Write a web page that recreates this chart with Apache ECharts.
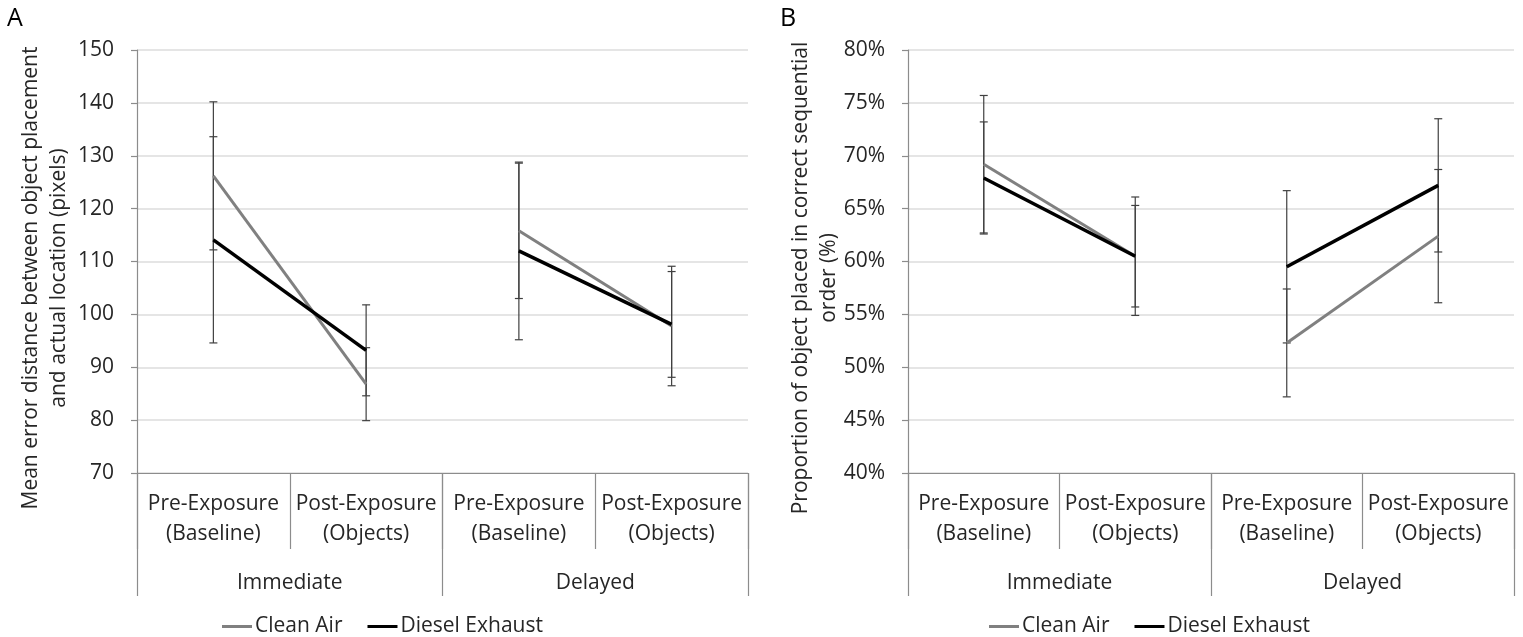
<!DOCTYPE html>
<html>
<head>
<meta charset="utf-8">
<script src="https://cdn.jsdelivr.net/npm/echarts@6/dist/echarts.min.js"></script>
<style>
html,body{margin:0;padding:0;background:#fff;}
#chart{width:1523px;height:637px;}
</style>
</head>
<body>
<div id="chart"></div>
<script>
// ---- data ----
const categories = ['Pre-Exposure\n(Baseline)', 'Post-Exposure\n(Objects)', 'Pre-Exposure\n(Baseline)', 'Post-Exposure\n(Objects)'];
const groups = ['Immediate', 'Delayed'];
const seriesNames = ['Clean Air', 'Diesel Exhaust'];

// Panel A: mean error distance (pixels)
const aClean = [126.2, 86.8, 115.8, 97.8];
const aCleanErr = [14.0, 6.9, 12.8, 11.3];
const aDiesel = [114.1, 93.2, 112.0, 98.1];
const aDieselErr = [19.5, 8.6, 16.8, 10.0];
const aTicks = {min: 70, max: 150, interval: 10};

// Panel B: proportion in correct sequential order (%)
const bClean = [69.2, 60.5, 52.3, 62.4];
const bCleanErr = [6.5, 5.6, 5.1, 6.3];
const bDiesel = [67.9, 60.5, 59.5, 67.2];
const bDieselErr = [5.3, 4.8, 7.2, 6.3];
const bTicks = {min: 40, max: 80, interval: 5};

const yTitleA = 'Mean error distance between object placement\nand actual location (pixels)';
const yTitleB = 'Proportion of object placed in correct sequential\norder (%)';

// ---- styling ----
const FONT = 'Open Sans';
const FS = 21;
const TXT = '#262626';
const AXC = '#8c8c8c';
const colors = {'Clean Air': '#808080', 'Diesel Exhaust': '#000000'};

const chart = echarts.init(document.getElementById('chart'), null, {renderer: 'canvas'});

function segData(arr, g) {
  return arr.map((v, i) => (Math.floor(i / 2) === g ? v : '-'));
}

function lineSeries(name, arr, axisIdx) {
  const out = [];
  for (let g = 0; g < groups.length; g++) {
    out.push({
      type: 'line', name: name,
      xAxisIndex: axisIdx * 2, yAxisIndex: axisIdx,
      data: segData(arr, g),
      symbol: 'none', connectNulls: false,
      lineStyle: {color: colors[name], width: name === 'Clean Air' ? 3 : 3.5},
      itemStyle: {color: colors[name]},
      z: 5, animation: false
    });
  }
  return out;
}

function errSeries(name, vals, errs, axisIdx) {
  return {
    type: 'custom', name: name,
    xAxisIndex: axisIdx * 2, yAxisIndex: axisIdx,
    data: vals.map((v, i) => [i, v - errs[i], v + errs[i]]),
    renderItem: function (params, api) {
      const x = api.value(0);
      const lo = api.coord([x, api.value(1)]);
      const hi = api.coord([x, api.value(2)]);
      const hw = 4;
      const st = {stroke: '#404040', lineWidth: 1.2};
      return {
        type: 'group',
        children: [
          {type: 'line', shape: {x1: lo[0], y1: lo[1], x2: hi[0], y2: hi[1]}, style: st},
          {type: 'line', shape: {x1: lo[0] - hw, y1: lo[1], x2: lo[0] + hw, y2: lo[1]}, style: st},
          {type: 'line', shape: {x1: hi[0] - hw, y1: hi[1], x2: hi[0] + hw, y2: hi[1]}, style: st}
        ]
      };
    },
    itemStyle: {color: colors[name]},
    z: 3, animation: false, silent: true
  };
}

function xAxes(gridIdx) {
  return [
    {
      type: 'category', gridIndex: gridIdx, data: categories, position: 'bottom',
      axisLine: {show: true, lineStyle: {color: AXC, width: 1.2}},
      axisTick: {show: true, length: 76, interval: 0, lineStyle: {color: AXC, width: 1.2}},
      axisLabel: {interval: 0, margin: 16, fontFamily: FONT, fontSize: FS, color: TXT, lineHeight: 30}
    },
    {
      type: 'category', gridIndex: gridIdx, data: groups, position: 'bottom',
      axisLine: {show: false},
      axisTick: {show: true, length: 123, interval: 0, lineStyle: {color: AXC, width: 1.2}},
      axisLabel: {interval: 0, margin: 95, fontFamily: FONT, fontSize: FS, color: TXT, lineHeight: 30}
    }
  ];
}

function yAxis(gridIdx, t, fmt) {
  return {
    type: 'value', gridIndex: gridIdx, min: t.min, max: t.max, interval: t.interval,
    axisLine: {show: true, lineStyle: {color: AXC, width: 1.2}},
    axisTick: {show: true, inside: false, length: 6, lineStyle: {color: AXC, width: 1.2}},
    splitLine: {show: true, lineStyle: {color: '#dcdcdc', width: 1.5}},
    axisLabel: {margin: 23, fontFamily: FONT, fontSize: FS, color: TXT, formatter: fmt}
  };
}

function legend(left) {
  return {
    left: left, top: 611, orient: 'horizontal', icon: 'rect',
    itemWidth: 30, itemHeight: 3, itemGap: 25,
    data: seriesNames,
    textStyle: {fontFamily: FONT, fontSize: FS, color: TXT, padding: [0, 0, 0, -2]}
  };
}

const option = {
  backgroundColor: '#ffffff',
  animation: false,
  grid: [
    {left: 137, top: 50, width: 611, height: 423},
    {left: 908, top: 50, width: 606, height: 423}
  ],
  xAxis: [...xAxes(0), ...xAxes(1)],
  yAxis: [yAxis(0, aTicks, '{value}'), yAxis(1, bTicks, '{value}%')],
  legend: [legend(217), legend(984)],
  series: [
    errSeries('Clean Air', aClean, aCleanErr, 0),
    errSeries('Diesel Exhaust', aDiesel, aDieselErr, 0),
    errSeries('Clean Air', bClean, bCleanErr, 1),
    errSeries('Diesel Exhaust', bDiesel, bDieselErr, 1),
    ...lineSeries('Clean Air', aClean, 0),
    ...lineSeries('Diesel Exhaust', aDiesel, 0),
    ...lineSeries('Clean Air', bClean, 1),
    ...lineSeries('Diesel Exhaust', bDiesel, 1)
  ],
  graphic: [
    {type: 'text', x: 7, y: 19, style: {text: 'A', font: '25px "' + FONT + '"', fill: '#000', textVerticalAlign: 'middle'}},
    {type: 'text', x: 780, y: 19, style: {text: 'B', font: '25px "' + FONT + '"', fill: '#000', textVerticalAlign: 'middle'}},
    {type: 'text', x: 45, y: 278, rotation: Math.PI / 2,
     style: {text: yTitleA, font: FS + 'px "' + FONT + '"', fill: TXT, textAlign: 'center', textVerticalAlign: 'middle', lineHeight: 28}},
    {type: 'text', x: 815, y: 278, rotation: Math.PI / 2,
     style: {text: yTitleB, font: FS + 'px "' + FONT + '"', fill: TXT, textAlign: 'center', textVerticalAlign: 'middle', lineHeight: 28}}
  ]
};

chart.setOption(option);
</script>
</body>
</html>
